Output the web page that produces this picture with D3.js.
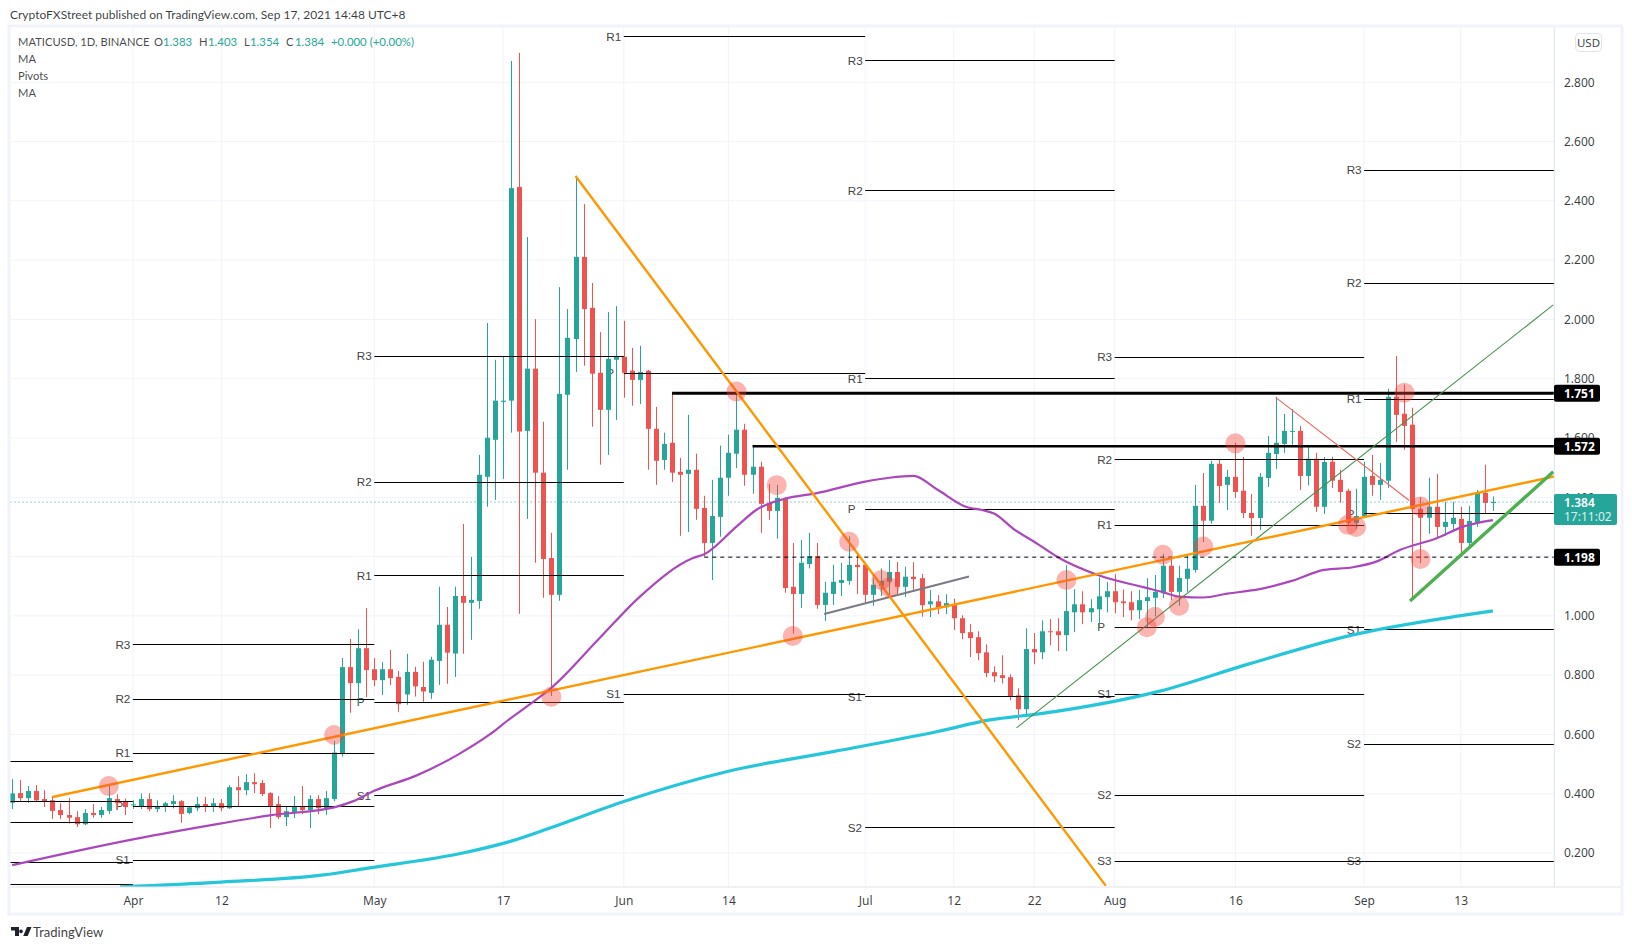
<!DOCTYPE html>
<html><head><meta charset="utf-8">
<script src="https://cdnjs.cloudflare.com/ajax/libs/d3/7.8.5/d3.min.js"></script>
<style>
html,body{margin:0;padding:0;background:#fff;overflow:hidden}
svg{display:block}
text{font-family:"Lato","Noto Sans",sans-serif}
</style></head><body>
<script>
// Days are counted from 1 April 2021; the first candle is day -15 (17 March), the last day 169 (17 Sept).
const firstDay = -15;
const opens = [
.369,.402,.385,.409,.382,.378,.345,.328,.321,.297,
.335,.328,.342,.382,.372,.362,.358,.382,.348,.358,
.365,.375,.335,.351,.365,.355,.368,.351,.422,.412,
.439,.436,.402,.365,.321,.338,.355,.345,.382,.351,
.382,.536,.827,.773,.891,.82,.783,.82,.794,.735,
.811,.76,.74,.848,.97,.873,1.067,1.044,1.05,1.469,
1.594,1.722,1.726,2.447,1.624,1.834,1.483,1.195,1.071,1.746,
1.934,2.211,2.039,1.82,1.695,1.864,1.874,1.827,1.796,1.827,
1.631,1.526,1.584,1.486,1.479,1.493,1.364,1.246,1.334,1.466,
1.547,1.628,1.476,1.503,1.381,1.354,1.398,1.098,1.074,1.175,
1.202,1.037,1.074,1.111,1.118,1.172,1.172,1.071,1.101,1.115,
1.148,1.098,1.132,1.127,1.039,1.049,1.029,1.039,.992,.945,
.928,.877,.81,.8,.793,.732,.685,.888,.877,.948,
.948,.935,1.012,1.039,1.012,1.022,1.063,1.083,1.049,1.046,
1.019,1.05,1.061,1.076,1.169,1.081,1.125,1.155,1.371,1.321,
1.513,1.442,1.469,1.422,1.347,1.33,1.465,1.546,1.58,1.622,
1.624,1.472,1.53,1.368,1.52,1.459,1.422,1.314,1.337,1.472,
1.442,1.456,1.739,1.682,1.645,1.361,1.331,1.368,1.3,1.31,
1.327,1.246,1.314,1.415,1.383];
const highs = [
.449,.446,.426,.429,.412,.392,.368,.385,.341,.348,
.365,.355,.429,.398,.384,.378,.401,.402,.378,.373,
.395,.378,.357,.389,.389,.385,.382,.429,.459,.466,
.469,.446,.405,.392,.358,.392,.426,.395,.395,.409,
.578,.858,.922,.955,1.026,.858,.844,.885,.814,.872,
.828,.845,.862,1.098,1.03,1.098,1.31,1.199,1.543,1.988,
1.864,1.877,2.872,2.899,2.278,2.001,1.655,1.28,2.109,2.035,
2.484,2.389,2.123,1.957,2.025,2.045,1.995,1.904,1.911,1.83,
1.705,1.618,1.751,1.533,1.678,1.547,1.405,1.459,1.574,1.611,
1.751,1.648,1.574,1.52,1.445,1.442,1.40,1.246,1.256,1.28,
1.246,1.115,1.172,1.179,1.268,1.206,1.172,1.128,1.159,1.189,
1.182,1.166,1.181,1.141,1.087,1.07,1.073,1.058,1.002,.972,
.948,.904,.83,.867,.803,.756,.958,.942,.985,.989,
.992,1.171,1.09,1.083,1.056,1.13,1.114,1.141,1.089,1.083,
1.087,1.127,1.138,1.209,1.2,1.169,1.202,1.442,1.482,1.523,
1.526,1.492,1.584,1.536,1.411,1.482,1.607,1.739,1.681,1.698,
1.641,1.57,1.55,1.536,1.537,1.493,1.429,1.429,1.52,1.543,
1.516,1.766,1.877,1.78,1.702,1.40,1.466,1.479,1.385,1.385,
1.368,1.371,1.425,1.51,1.403];
const lows = [
.348,.374,.369,.373,.355,.315,.315,.299,.288,.294,
.319,.319,.332,.35,.328,.349,.348,.341,.338,.339,
.35,.302,.331,.341,.338,.339,.341,.349,.358,.395,
.402,.392,.284,.314,.291,.318,.331,.284,.331,.328,
.375,.525,.673,.70,.726,.763,.733,.766,.675,.70,
.728,.71,.72,.767,.771,.794,.872,.919,1.024,1.368,
1.391,1.462,1.618,1.007,1.327,1.179,1.061,.73,1.051,1.493,
1.823,1.844,1.638,1.51,1.543,1.661,1.736,1.709,1.715,1.493,
1.442,1.493,1.452,1.27,1.283,1.324,1.2,1.121,1.267,1.405,
1.499,1.439,1.412,1.28,1.324,1.26,1.078,.94,1.027,1.16,
1.024,.983,1.037,1.067,1.105,1.074,1.04,1.034,1.067,1.067,
1.067,1.064,1.088,.997,.996,1.006,1.006,.952,.921,.861,
.85,.793,.776,.772,.715,.648,.665,.837,.854,.901,
.881,.881,.945,.972,.979,.96,1.012,1.009,.996,.985,
.989,.962,.998,1.06,1.054,1.034,1.081,1.146,1.249,1.311,
1.381,1.357,1.398,1.33,1.27,1.29,1.435,1.496,1.55,1.577,
1.425,1.44,1.351,1.344,1.431,1.382,1.307,1.294,1.335,1.405,
1.391,1.432,1.587,1.56,1.057,1.178,1.277,1.26,1.27,1.283,
1.2,1.23,1.3,1.344,1.354];
const closes = [
.401,.385,.409,.378,.374,.342,.328,.319,.297,.335,
.328,.345,.385,.368,.355,.364,.382,.348,.358,.368,
.375,.332,.354,.365,.355,.368,.351,.422,.412,.439,
.432,.399,.358,.321,.341,.355,.345,.382,.351,.385,
.539,.827,.773,.891,.817,.783,.82,.79,.702,.811,
.762,.745,.852,.97,.876,1.067,1.044,1.054,1.476,1.601,
1.726,1.726,2.443,1.622,1.834,1.483,1.192,1.071,1.749,1.938,
2.211,2.035,1.817,1.695,1.867,1.877,1.82,1.796,1.823,1.631,
1.523,1.58,1.483,1.476,1.493,1.361,1.246,1.337,1.466,1.55,
1.628,1.476,1.503,1.378,1.354,1.398,1.094,1.074,1.179,1.202,
1.037,1.078,1.115,1.121,1.172,1.165,1.071,1.105,1.118,1.148,
1.098,1.132,1.124,1.036,1.049,1.026,1.043,.992,.942,.925,
.874,.807,.796,.79,.729,.685,.888,.877,.948,.945,
.935,1.016,1.039,1.012,1.026,1.066,1.083,1.046,1.043,1.019,
1.053,1.063,1.081,1.169,1.081,1.128,1.159,1.371,1.321,1.513,
1.438,1.469,1.418,1.347,1.33,1.469,1.55,1.584,1.624,1.624,
1.472,1.53,1.368,1.519,1.456,1.418,1.314,1.337,1.469,1.442,
1.459,1.739,1.678,1.641,1.361,1.331,1.368,1.3,1.317,1.331,
1.246,1.32,1.415,1.381,1.384];

const maShortDays = [-15,0,11,17,25,27.4,30,35.2,40.4,44.3,46.8,49.4,52,58,63,69.6,71,75,77.5,81,85,91,94,97,99.9,103.6,105.5,107,109.6,112,115,120,125.7,128,130,133,136,140,144,148,151.6,154.5,157.5,162,165.3,169];
const maShortVals = [.159,.246,.30,.327,.354,.375,.41,.461,.532,.599,.652,.703,.757,.925,1.065,1.195,1.208,1.301,1.358,1.395,1.414,1.453,1.466,1.472,1.427,1.367,1.357,1.345,1.29,1.25,1.197,1.137,1.096,1.08,1.065,1.062,1.075,1.09,1.118,1.155,1.164,1.183,1.223,1.262,1.301,1.323];
const maLongDays = [-1.6,11,23.7,29,41,47,52,61,74,87,100,106.5,112.8,127.6,138.7,151.6,164.6,169];
const maLongVals = [.086,.102,.126,.148,.2,.24,.286,.374,.476,.542,.61,.649,.67,.746,.838,.936,.999,1.017];

// Pivot periods: first day, then levels
const pivotStarts = [-16, 0, 30, 61, 91, 122, 153, 177];
const pivotNames  = [
  ["R1","P","S1","S2","S3"],
  ["R3","R2","R1","P","S1"],
  ["R3","R2","R1","P","S1"],
  ["R1","P","S1"],
  ["R3","R2","R1","P","S1","S2"],
  ["R3","R2","R1","P","S1","S2","S3"],
  ["R3","R2","R1","P","S1","S2","S3"]];
const pivotVals = [
  [.509,.374,.303,.168,.097],
  [.904,.721,.539,.36,.178],
  [1.876,1.451,1.137,.711,.394],
  [2.955,1.819,.736],
  [2.874,2.435,1.801,1.36,.728,.287],
  [1.873,1.528,1.306,.962,.738,.396,.174],
  [2.505,2.123,1.731,1.346,.954,.568,.174]];

const levelPrices = [1.751,1.572,1.198];
const levelStarts = [67,77,71];
const levelWidths = [3.2,2.4,1];

// Trend lines: day0, price0, day1, price1
const orangeUp   = [-10,.389,176.6,1.47];
const orangeDown = [55,2.484,120.9,.089];
const greenThin  = [109.8,.622,176.5,2.049];
const greenThick = [158.7,1.05,176.5,1.486];
const redThin    = [142,1.737,158.6,1.389];
const grayLine   = [85.9,1.006,103.9,1.133];

const circleDays = [-3,25,52,75,80,89,82,93,94,116,126,127,128,130,133,137,151,152,158,160,160];
const circleVals = [.426,.598,.727,1.757,1.441,1.25,.932,1.121,1.096,1.121,.962,.997,1.206,1.034,1.234,1.582,1.307,1.3,1.753,1.369,1.192];

const priceTicks = [2.8,2.6,2.4,2.2,2.0,1.8,1.6,1.4,1.2,1.0,.8,.6,.4,.2];
const dateTickDays = [0,11,30,46,61,74,91,102,112,122,137,153,165];
const dateTickText = ["Apr","12","May","17","Jun","14","Jul","12","22","Aug","16","Sep","13"];

const UP="#26a69a", DOWN="#ef5350", GRID="#f0f3fa", BORDER="#e0e3eb", TEXT="#131722";
const plot={l:10.5,t:27,r:1554.3,b:887};

const x=d3.scaleLinear().domain([0,169]).range([132.9,1492.9]);
const y=d3.scaleLinear().domain([.2,2.8]).range([853,82.3]);

const svg=d3.select("body").append("svg").attr("width",1632).attr("height",950);
svg.append("defs").append("clipPath").attr("id","plot").append("rect")
  .attr("x",plot.l).attr("y",plot.t).attr("width",plot.r-plot.l).attr("height",plot.b-plot.t);

// frame
svg.append("rect").attr("x",9).attr("y",26).attr("width",1613).attr("height",888).attr("fill","#fff").attr("stroke",GRID).attr("stroke-width",3);

// grid
const g=svg.append("g");
g.selectAll(".hg").data(priceTicks).join("line").attr("x1",plot.l).attr("x2",plot.r)
  .attr("y1",d=>y(d)).attr("y2",d=>y(d)).attr("stroke",GRID);
g.selectAll(".vg").data(dateTickDays).join("line").attr("y1",plot.t).attr("y2",plot.b)
  .attr("x1",d=>x(d)).attr("x2",d=>x(d)).attr("stroke",GRID);

const clip=svg.append("g").attr("clip-path","url(#plot)");

// pivot labels (behind candles)
const pivotRows=[];
pivotVals.forEach((vals,i)=>vals.forEach((v,j)=>pivotRows.push({v,name:pivotNames[i][j],a:pivotStarts[i],b:pivotStarts[i+1],i})));
clip.selectAll(".pl").data(pivotRows.filter(r=>r.i>0)).join("text")
  .attr("x",r=>x(r.a)-17.5).attr("y",r=>y(r.v)+4.3).attr("text-anchor","start")
  .attr("font-size",11.7).attr("fill","#444").style("font-family","'Liberation Sans',Arial,sans-serif").text(r=>r.name);

// candles
const candles=opens.map((o,i)=>({d:firstDay+i,o,h:highs[i],l:lows[i],c:closes[i]}));
const isUp=c=>c.c>=c.o;
clip.selectAll(".wick").data(candles).join("line")
  .attr("x1",c=>Math.round(x(c.d))+.5).attr("x2",c=>Math.round(x(c.d))+.5)
  .attr("y1",c=>y(c.h)).attr("y2",c=>y(c.l)).attr("stroke",c=>isUp(c)?UP:DOWN).attr("stroke-width",1);
clip.selectAll(".body").data(candles).join("rect")
  .attr("x",c=>Math.round(x(c.d))-2).attr("width",5)
  .attr("y",c=>y(Math.max(c.o,c.c)))
  .attr("height",c=>Math.max(1,Math.abs(y(c.o)-y(c.c))))
  .attr("fill",c=>isUp(c)?UP:DOWN);

// pivot lines
clip.selectAll(".pv").data(pivotRows).join("line")
  .attr("x1",r=>x(r.a)).attr("x2",r=>x(r.b)).attr("y1",r=>Math.round(y(r.v))+.5).attr("y2",r=>Math.round(y(r.v))+.5)
  .attr("stroke","#000").attr("stroke-width",1);

// last price line
clip.append("line").attr("x1",plot.l).attr("x2",plot.r).attr("y1",y(closes[closes.length-1])).attr("y2",y(closes[closes.length-1]))
  .attr("stroke",UP).attr("stroke-dasharray","1 3");

// moving averages
const line=d3.line().x(p=>x(p[0])).y(p=>y(p[1])).curve(d3.curveMonotoneX);
clip.append("path").attr("d",line(maLongDays.map((d,i)=>[d,maLongVals[i]]))).attr("fill","none").attr("stroke","#26c6da").attr("stroke-width",3.2);
clip.append("path").attr("d",line(maShortDays.map((d,i)=>[d,maShortVals[i]]))).attr("fill","none").attr("stroke","#ab47bc").attr("stroke-width",2.2);

// horizontal levels
levelPrices.forEach((p,i)=>{
  const l=clip.append("line").attr("x1",x(levelStarts[i])).attr("x2",plot.r).attr("y1",y(p)).attr("y2",y(p)).attr("stroke","#000").attr("stroke-width",levelWidths[i]);
  if(i===2) l.attr("stroke-dasharray","4 4");
});

// trend lines
function seg(a,color,w){clip.append("line").attr("x1",x(a[0])).attr("y1",y(a[1])).attr("x2",x(a[2])).attr("y2",y(a[3])).attr("stroke",color).attr("stroke-width",w);}
seg(greenThin,"#43924a",1.1);
seg(redThin,"#f0635c",1.1);
seg(grayLine,"#787b86",2);
seg(orangeDown,"#ff9800",2.4);
seg(orangeUp,"#ff9800",2.4);
seg(greenThick,"#4caf50",3.4);

// circles
clip.selectAll(".mark").data(circleDays).join("circle")
  .attr("cx",d=>x(d)).attr("cy",(d,i)=>y(circleVals[i])).attr("r",10)
  .attr("fill","#f44336").attr("fill-opacity",.4);

// axes
svg.append("line").attr("x1",plot.r).attr("x2",plot.r).attr("y1",plot.t).attr("y2",plot.b).attr("stroke",BORDER);
svg.append("line").attr("x1",plot.l).attr("x2",1621).attr("y1",plot.b).attr("y2",plot.b).attr("stroke",BORDER);

const yAxis=d3.axisRight(y).tickValues(priceTicks).tickFormat(d3.format(".3f")).tickSize(0).tickPadding(0);
const ya=svg.append("g").attr("transform","translate(1564,0)").call(yAxis);
ya.select(".domain").remove();
ya.selectAll("text").attr("font-size",12).attr("fill",TEXT).attr("fill-opacity",.85).style("font-family","'Noto Sans',sans-serif");

const xAxis=d3.axisBottom(x).tickValues(dateTickDays).tickFormat((d,i)=>dateTickText[i]).tickSize(0).tickPadding(0);
const xa=svg.append("g").attr("transform","translate(0,896.5)").call(xAxis);
xa.select(".domain").remove();
xa.selectAll("text").attr("font-size",12).attr("fill",TEXT).attr("fill-opacity",.85).style("font-family","'Noto Sans',sans-serif");

// USD badge
svg.append("rect").attr("x",1575.5).attr("y",33.5).attr("width",26).attr("height",18).attr("rx",4).attr("fill","#fff").attr("stroke",BORDER);
svg.append("text").attr("x",1588.5).attr("y",47).attr("text-anchor","middle").attr("font-size",11.5).attr("fill",TEXT).attr("fill-opacity",.85).style("font-family","'Noto Sans',sans-serif").text("USD");

// price tags
const tagH=17;
levelPrices.forEach(p=>{
  svg.append("rect").attr("x",1554).attr("y",y(p)-tagH/2).attr("width",46).attr("height",tagH).attr("rx",2).attr("fill","#000");
  svg.append("text").attr("x",1564).attr("y",y(p)+4.5).attr("font-size",12).attr("font-weight",700).attr("fill","#fff").style("font-family","'Noto Sans',sans-serif").text(d3.format(".3f")(p));
});
svg.append("rect").attr("x",1554).attr("y",494).attr("width",63).attr("height",31).attr("rx",2).attr("fill",UP);
svg.append("text").attr("x",1564).attr("y",507).attr("font-size",12).attr("font-weight",600).attr("fill","#fff").style("font-family","'Noto Sans',sans-serif").text(d3.format(".3f")(closes[closes.length-1]));
svg.append("text").attr("x",1564).attr("y",521).attr("font-size",12).attr("fill","#fff").attr("fill-opacity",.85).style("font-family","'Noto Sans',sans-serif").text("17:11:02");

// header + legend
svg.append("text").attr("x",10).attr("y",19).attr("font-size",12).attr("fill",TEXT).attr("fill-opacity",.85)
  .text("CryptoFXStreet published on TradingView.com, Sep 17, 2021 14:48 UTC+8");
const legendDark=[["MATICUSD, 1D, BINANCE",18,46],["O",154,46],["H",199,46],["L",244,46],["C",286,46],["MA",18,63],["Pivots",18,80],["MA",18,97]];
legendDark.forEach(t=>svg.append("text").attr("x",t[1]).attr("y",t[2]).attr("font-size",11.2).attr("fill",TEXT).attr("fill-opacity",.8).text(t[0]));
const legendTeal=[["1.383",163],["1.403",208],["1.354",250],["1.384",295],["+0.000 (+0.00%)",331]];
legendTeal.forEach(t=>svg.append("text").attr("x",t[1]).attr("y",46).attr("font-size",11.4).attr("fill",UP).text(t[0]));

// footer logo
svg.append("path").attr("d","M11 927h8v9h-4v-5.5h-4z M21 929.5a1.9 1.9 0 1 0 .01 0z M27 927h4.5l-3.8 9h-4.5z").attr("fill","#1e222d");
svg.append("text").attr("x",33).attr("y",937).attr("font-size",13).attr("fill",TEXT).attr("fill-opacity",.85).text("TradingView");
</script>
</body></html>
